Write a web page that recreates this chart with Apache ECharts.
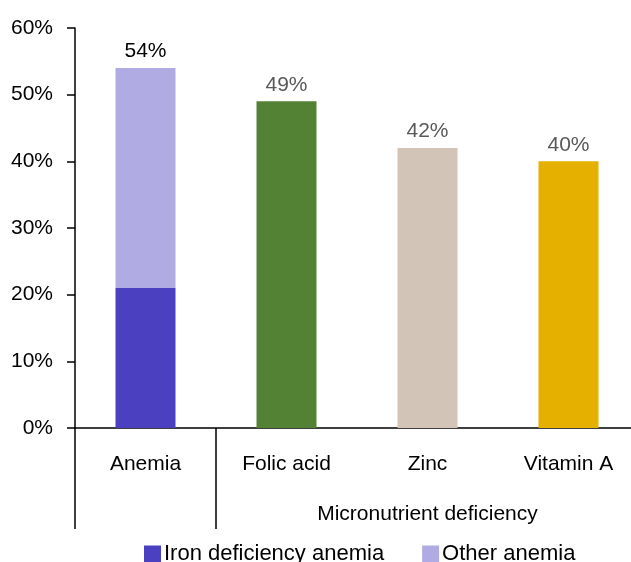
<!DOCTYPE html>
<html>
<head>
<meta charset="utf-8">
<script src="https://cdn.jsdelivr.net/npm/echarts@6/dist/echarts.min.js"></script>
<style>
  html, body { margin: 0; padding: 0; background: #fff; overflow: hidden; }
  #chart { width: 640px; height: 562px; }
</style>
</head>
<body>
<div id="chart"></div>
<script>
var categories = ["Anemia", "Folic acid", "Zinc", "Vitamin A"];
var groupLabels = ["", "", "Micronutrient deficiency", ""];
var ironAnemia = [21, "-", "-", "-"];
var otherAnemia = [33, "-", "-", "-"];
var micronutrient = ["-", 49, 42, 40];
var micronutrientColors = ["#548235", "#d3c4b8", "#e6b000"];
var yTicks = [0, 10, 20, 30, 40, 50, 60];

var font = "Liberation Sans, Arial, sans-serif";

// the chart box is a little wider than the window: the last category ends past the right edge
var chart = echarts.init(document.getElementById("chart"));
chart.setOption({
  animation: false,
  textStyle: { fontFamily: font },
  grid: { left: 75, top: 28, right: 1, bottom: 134 },
  legend: {
    data: ["Iron deficiency anemia", "Other anemia"],
    left: 139,
    top: 538,
    itemWidth: 17,
    itemHeight: 17,
    itemGap: 38,
    icon: "rect",
    textStyle: { fontSize: 22, color: "#000", fontFamily: font, padding: [0, 0, 0, -2] }
  },
  xAxis: [
    {
      type: "category",
      data: categories,
      axisLine: { lineStyle: { color: "#000", width: 1.5 } },
      axisTick: {
        show: true,
        length: 101,
        interval: function (i) { return i === 0 || i === 1; },
        lineStyle: { color: "#000", width: 1.5 }
      },
      axisLabel: { fontSize: 21, color: "#000", margin: 26 }
    },
    {
      type: "category",
      position: "bottom",
      offset: 50,
      data: groupLabels,
      axisLine: { show: false },
      axisTick: { show: false },
      axisLabel: { fontSize: 21, color: "#000", margin: 26, interval: 0 }
    }
  ],
  yAxis: {
    type: "value",
    min: yTicks[0],
    max: yTicks[yTicks.length - 1],
    interval: 10,
    splitLine: { show: false },
    axisLine: { show: true, lineStyle: { color: "#000", width: 1.5 } },
    axisTick: { show: true, length: 8, lineStyle: { color: "#000", width: 1.5 } },
    axisLabel: { fontSize: 21, color: "#000", margin: 22, formatter: "{value}%" }
  },
  series: [
    {
      name: "Iron deficiency anemia",
      type: "bar",
      stack: "total",
      barWidth: 60,
      data: ironAnemia,
      itemStyle: { color: "#4b40bf" }
    },
    {
      name: "Other anemia",
      type: "bar",
      stack: "total",
      barWidth: 60,
      data: otherAnemia,
      itemStyle: { color: "#b0abe3" },
      label: {
        show: true,
        position: "top",
        distance: 6,
        fontSize: 21,
        color: "#000",
        formatter: function (p) {
          return (ironAnemia[p.dataIndex] + otherAnemia[p.dataIndex]) + "%";
        }
      }
    },
    {
      name: "Micronutrient deficiency",
      type: "bar",
      stack: "total",
      barWidth: 60,
      data: micronutrient,
      itemStyle: {
        color: function (p) { return micronutrientColors[p.dataIndex - 1]; }
      },
      label: {
        show: true,
        position: "top",
        distance: 6,
        fontSize: 21,
        color: "#595959",
        formatter: "{c}%"
      }
    }
  ]
});
</script>
</body>
</html>
